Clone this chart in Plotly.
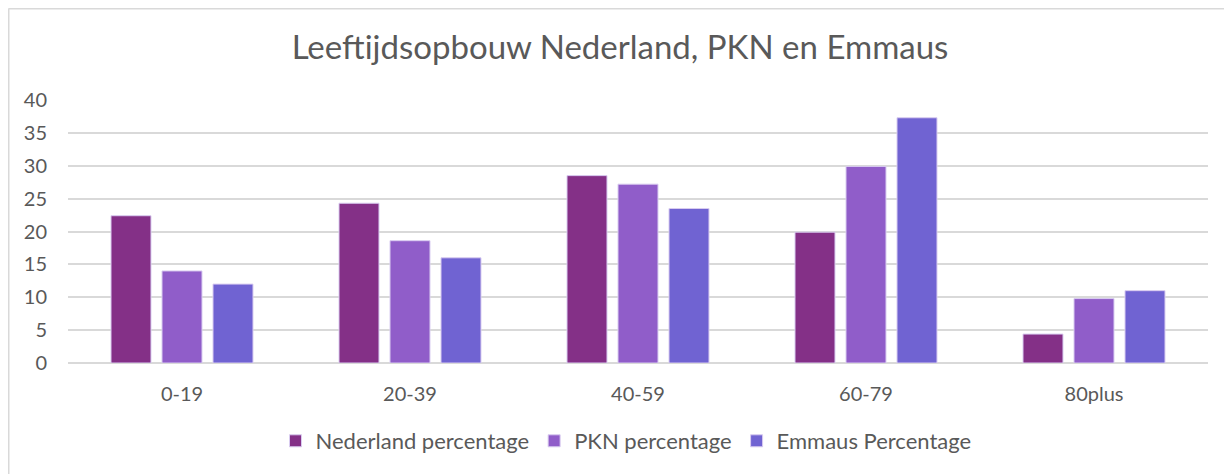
import plotly.graph_objects as go

categories = ['0-19', '20-39', '40-59', '60-79', '80plus']
nederland = [22.4, 24.3, 28.5, 19.9, 4.4]
pkn = [14.0, 18.6, 27.2, 29.9, 9.8]
emmaus = [12.0, 16.0, 23.5, 37.3, 11.0]

series = [
    ('Nederland percentage', nederland, '#843087'),
    ('PKN percentage', pkn, '#905dc9'),
    ('Emmaus Percentage', emmaus, '#7063d2'),
]

FONT = 'Lato'
GREY = '#595959'

# the page adds an 8px body margin, so the figure is 8px smaller than the window
W, H = 1224, 466
L, R, T, B = 60, 24, 92, 111
PW, PH = W - L - R, H - T - B

fig = go.Figure()
for name, vals, col in series:
    fig.add_trace(go.Bar(x=categories, y=vals, name=name,
                         marker=dict(color=col, line=dict(color='#d9ccf0', width=1))))

fig.update_layout(
    width=W, height=H,
    margin=dict(l=L, r=R, t=T, b=B),
    paper_bgcolor='white', plot_bgcolor='white',
    barmode='group', bargap=0.329, bargroupgap=0.216,
    title=dict(text='Leeftijdsopbouw Nederland, PKN en Emmaus',
               x=0.5, xanchor='center', y=1 - 39 / H, yanchor='middle',
               xref='container', yref='container',
               font=dict(family=FONT, size=33, color=GREY)),
    font=dict(family=FONT, size=20, color=GREY),
    legend=dict(orientation='h', x=0.5 - 12 / PW, xanchor='center', y=-78 / PH,
                yanchor='middle',
                font=dict(family=FONT, size=22, color=GREY), itemwidth=30,
                traceorder='normal'),
    showlegend=True,
)

fig.update_yaxes(range=[0, 40], dtick=5, showgrid=True, gridcolor='#d9d9d9', gridwidth=1.5,
                 zeroline=True, zerolinecolor='#d9d9d9', zerolinewidth=1.5,
                 tickfont=dict(family=FONT, size=20, color=GREY), ticklabelstandoff=20,
                 fixedrange=True)
fig.update_xaxes(showline=False, tickfont=dict(family=FONT, size=20, color=GREY),
                 ticklabelstandoff=17)

# chart frame (only top and left edges fall inside the picture)
fx = (0.5 - L) / PW
fy = (PH + T - 0.5) / PH
fig.add_shape(type='line', xref='paper', yref='paper', x0=fx, x1=1.05, y0=fy, y1=fy,
              line=dict(color='#d9d9d9', width=2))
fig.add_shape(type='line', xref='paper', yref='paper', x0=fx, x1=fx, y0=-0.5, y1=fy,
              line=dict(color='#d9d9d9', width=2))

fig.write_html('out.html')
